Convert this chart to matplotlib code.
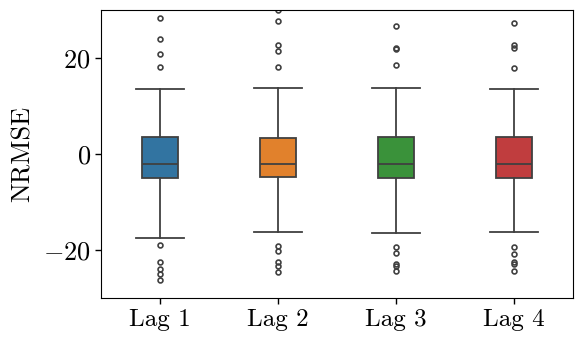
import numpy as np
import matplotlib
matplotlib.use('Agg')
import matplotlib.pyplot as plt

plt.rcParams['font.family'] = 'cmr10'
plt.rcParams['mathtext.fontset'] = 'cm'
plt.rcParams['axes.formatter.use_mathtext'] = True

labels = ['Lag 1', 'Lag 2', 'Lag 3', 'Lag 4']
colors = ['#3274a1', '#e1812c', '#3a923a', '#c03d3e']

# box stats
q1 = [-4.9, -4.85, -5.0, -5.0]
med = [-2.15, -2.15, -2.15, -2.15]
q3 = [3.6, 3.4, 3.5, 3.5]
whislo = [-17.4, -16.3, -16.4, -16.25]
whishi = [13.5, 13.7, 13.75, 13.5]
fliers = [
    [28.4, 24.0, 20.8, 18.2, -19.0, -22.5, -24.0, -25.0, -26.25],
    [30.0, 27.8, 22.7, 21.5, 18.2, -19.1, -20.1, -22.4, -23.3, -24.5],
    [26.7, 22.1, 21.9, 18.5, -19.3, -20.6, -22.8, -23.3, -24.3],
    [27.2, 22.7, 22.0, 18.0, -19.3, -20.8, -22.4, -22.8, -24.3],
]

stats = []
for i in range(4):
    stats.append(dict(q1=q1[i], med=med[i], q3=q3[i], whislo=whislo[i],
                      whishi=whishi[i], fliers=np.array(fliers[i]), label=labels[i]))

fig = plt.figure(figsize=(5.81, 3.45), dpi=100)
ax = fig.add_axes([0.174, 0.136, 0.812, 0.835])

lc = '#404040'
bp = ax.bxp(stats, positions=range(4), widths=0.3, patch_artist=True,
            boxprops=dict(edgecolor=lc, linewidth=1.3),
            medianprops=dict(color=lc, linewidth=1.3),
            whiskerprops=dict(color=lc, linewidth=1.3),
            capprops=dict(color=lc, linewidth=1.3),
            capwidths=0.41,
            flierprops=dict(marker='o', markersize=3.5, markerfacecolor='none',
                            markeredgecolor=lc, markeredgewidth=1.2))
for patch, c in zip(bp['boxes'], colors):
    patch.set_facecolor(c)

ax.set_xlim(-0.5, 3.5)
ax.set_ylim(-30, 30)
ax.set_yticks([-20, 0, 20])
ax.set_xticks(range(4))
ax.set_xticklabels(labels)
ax.tick_params(labelsize=18, length=4, width=1)
ax.tick_params(axis='y', labelsize=19)
ax.set_ylabel('NRMSE', fontsize=19, labelpad=6)

fig.savefig('out.png', dpi=100)
